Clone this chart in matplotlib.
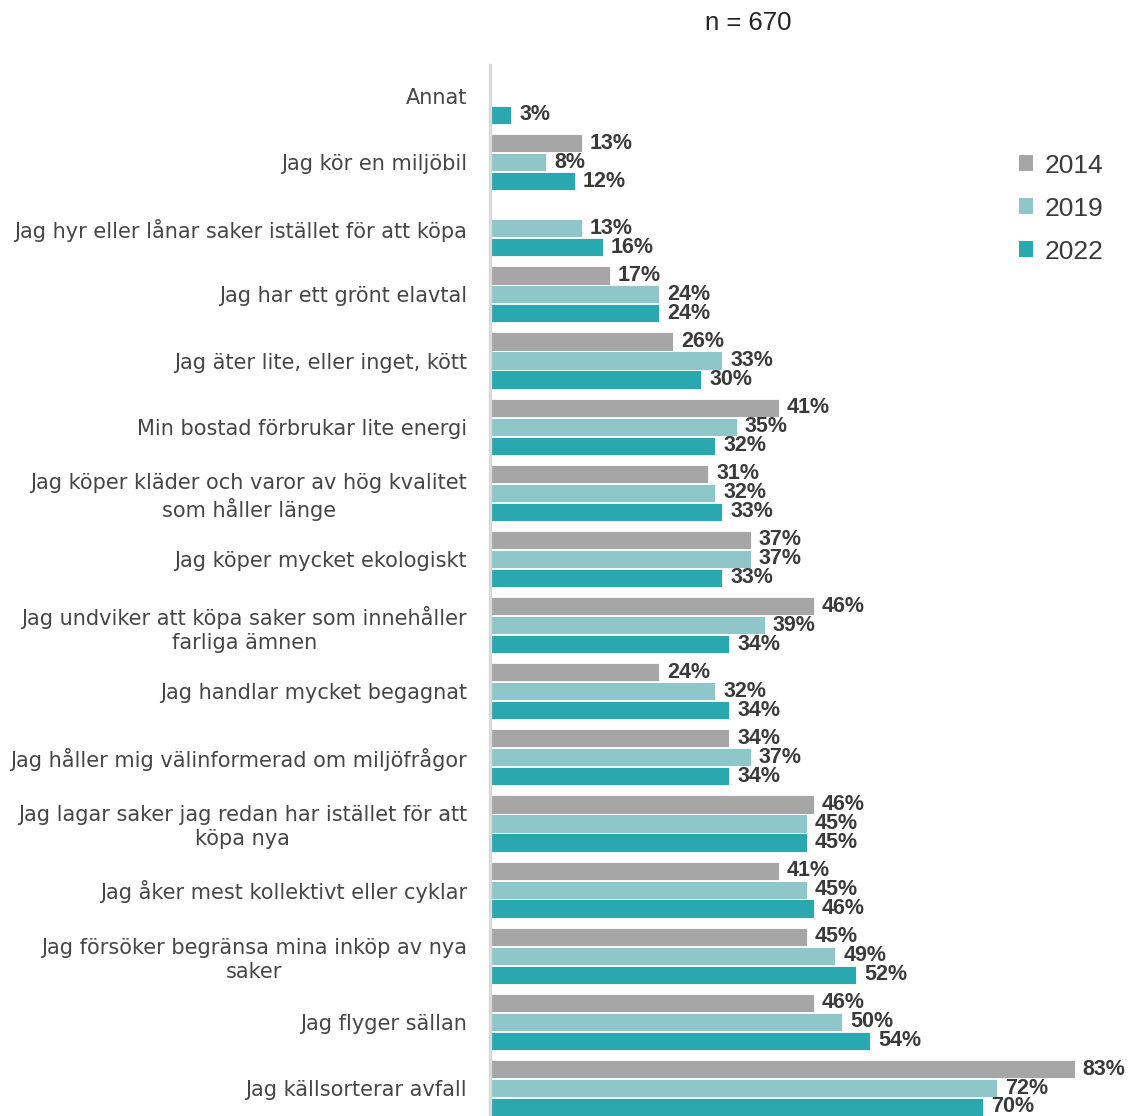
import matplotlib
matplotlib.use("Agg")
import matplotlib.pyplot as plt
from matplotlib.patches import Patch
from matplotlib.transforms import offset_copy
import numpy as np

plt.rcParams['font.family'] = ['Liberation Sans', 'DejaVu Sans']

categories = [
    "Annat",
    "Jag kör en miljöbil",
    "Jag hyr eller lånar saker istället för att köpa",
    "Jag har ett grönt elavtal",
    "Jag äter lite, eller inget, kött",
    "Min bostad förbrukar lite energi",
    "Jag köper kläder och varor av hög kvalitet\nsom håller länge",
    "Jag köper mycket ekologiskt",
    "Jag undviker att köpa saker som innehåller\nfarliga ämnen",
    "Jag handlar mycket begagnat",
    "Jag håller mig välinformerad om miljöfrågor",
    "Jag lagar saker jag redan har istället för att\nköpa nya",
    "Jag åker mest kollektivt eller cyklar",
    "Jag försöker begränsa mina inköp av nya\nsaker",
    "Jag flyger sällan",
    "Jag källsorterar avfall",
]
years = ["2014", "2019", "2022"]
v2014 = [None, 13, None, 17, 26, 41, 31, 37, 46, 24, 34, 46, 41, 45, 46, 83]
v2019 = [None, 8, 13, 24, 33, 35, 32, 37, 39, 32, 37, 45, 45, 49, 50, 72]
v2022 = [3, 12, 16, 24, 30, 32, 33, 33, 34, 34, 34, 45, 46, 52, 54, 70]
series = [v2014, v2019, v2022]
colors = ["#a6a6a6", "#8ec6ca", "#2aa8b0"]
title = "n = 670"

W, H = 1131, 1116
fig = plt.figure(figsize=(W / 100, H / 100), dpi=100)
ax = fig.add_axes([490 / W, 0, (W - 490) / W, 1 - 65 / H])

n = len(categories)
idx = np.arange(n)
off = 0.287
bh = 0.275
txtc = "#3a3a3a"
for k, vals in enumerate(series):
    ys = idx + (k - 1) * off
    for y, v in zip(ys, vals):
        if v is None:
            continue
        ax.barh(y, v, height=bh, color=colors[k], edgecolor="white", linewidth=0.6)
        ax.text(v + 1.15, y, f"{v}%", va="center", ha="left", fontsize=15.5,
                fontweight="bold", color=txtc)

ax.set_xlim(0, 91)
ax.set_ylim(15 + 28 / 66.15, -31 / 66.15)
ax.set_yticks(idx)
ax.set_yticklabels(categories, fontsize=15.0, color="#464646", ha="center",
                   multialignment="center", linespacing=1.25,
                   family=['DejaVu Sans'])
ax.tick_params(axis="y", length=0, pad=0)
fig.canvas.draw()
renderer = fig.canvas.get_renderer()
for lab in ax.get_yticklabels():
    bb = lab.get_window_extent(renderer)
    w_px = bb.width
    lab.set_ha("center")
    lab.set_transform(offset_copy(ax.get_yaxis_transform(which='tick1'), fig=fig,
                                  x=-(23 + w_px / 2) * 72 / 100, units="points"))
ax.set_xticks([])
for s in ["top", "right", "bottom"]:
    ax.spines[s].set_visible(False)
ax.spines["left"].set_color("#d9d9d9")
ax.spines["left"].set_linewidth(2.4)

handles = [Patch(facecolor=c, edgecolor="none") for c in colors]
fig.legend(handles, years, loc="upper left", bbox_to_anchor=(995 / W, 1 - 130 / H),
           frameon=False, fontsize=19, handlelength=0.55, handleheight=0.55,
           handletextpad=0.42, labelspacing=0.72, labelcolor=txtc,
           prop={'family': ['Liberation Sans'], 'size': 19})

fig.text(748 / W, 1 - 23 / H, title, ha="center", va="center", fontsize=18.5,
         color="#222222", family=['Liberation Sans'])

fig.savefig("out.png", dpi=100)
